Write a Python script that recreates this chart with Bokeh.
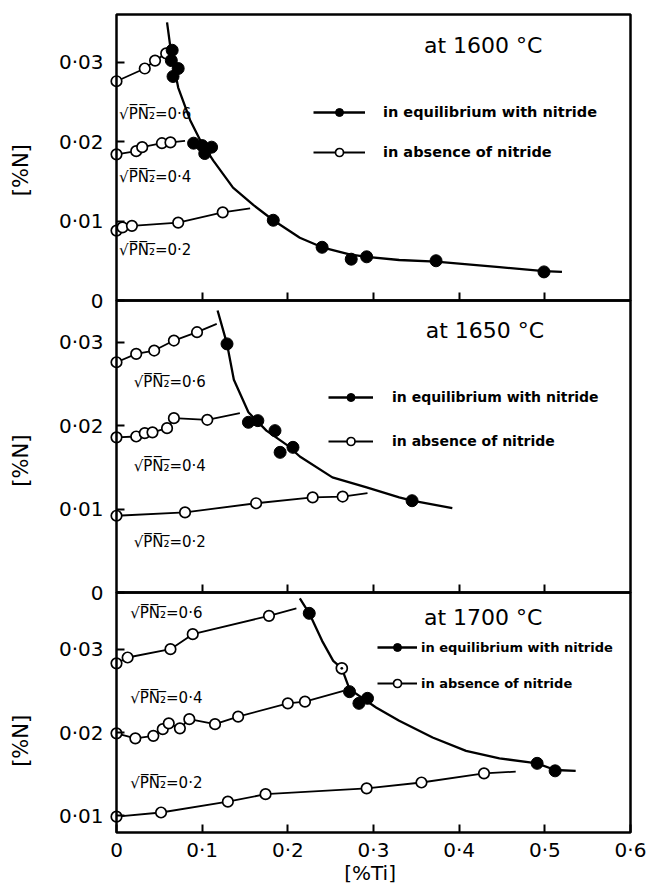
import math
from bokeh.plotting import figure
from bokeh.models import (Range1d, LinearAxis, FixedTicker, BoxAnnotation, Label,
                          Legend, LegendItem)
from bokeh.embed import file_html
from bokeh.resources import INLINE

# ---------------- data ----------------
x_ticks = [0, 0.1, 0.2, 0.3, 0.4, 0.5, 0.6]
x_tick_labels = ["0", "0·1", "0·2", "0·3", "0·4", "0·5", "0·6"]

# 1600 C
p1_open06_x = [0, 0.033, 0.045, 0.058]
p1_open06_y = [0.0276, 0.0292, 0.0302, 0.0311]
p1_open04_x = [0, 0.023, 0.030, 0.053, 0.063]
p1_open04_y = [0.0184, 0.0188, 0.0193, 0.0198, 0.0199]
p1_open04_end = (0.080, 0.0201)
p1_open02_x = [0, 0.007, 0.018, 0.072, 0.124]
p1_open02_y = [0.0088, 0.0092, 0.0094, 0.0098, 0.0111]
p1_open02_end = (0.156, 0.0116)
p1_fill_x = [0.065, 0.064, 0.072, 0.066, 0.090, 0.100, 0.111, 0.103,
             0.183, 0.240, 0.274, 0.292, 0.373, 0.499]
p1_fill_y = [0.0315, 0.0302, 0.0292, 0.0282, 0.0198, 0.0195, 0.0193, 0.0185,
             0.0101, 0.0067, 0.0052, 0.0055, 0.0050, 0.0036]
p1_curve_x = [0.059, 0.063, 0.068, 0.072, 0.086, 0.098, 0.113, 0.136, 0.160,
              0.183, 0.214, 0.240, 0.272, 0.292, 0.330, 0.373, 0.447, 0.499, 0.520]
p1_curve_y = [0.0350, 0.0318, 0.0290, 0.0268, 0.0227, 0.0201, 0.0176, 0.0142, 0.0120,
              0.0101, 0.0079, 0.0067, 0.0058, 0.0055, 0.0051, 0.0049, 0.0042, 0.0037, 0.0036]

# 1650 C
p2_open06_x = [0, 0.023, 0.044, 0.067, 0.094]
p2_open06_y = [0.0276, 0.0286, 0.0290, 0.0302, 0.0312]
p2_open06_end = (0.117, 0.0322)
p2_open04_x = [0, 0.023, 0.033, 0.042, 0.059, 0.067, 0.106]
p2_open04_y = [0.0186, 0.0187, 0.0191, 0.0192, 0.0197, 0.0209, 0.0207]
p2_open04_end = (0.144, 0.0215)
p2_open02_x = [0, 0.080, 0.163, 0.229, 0.264]
p2_open02_y = [0.0092, 0.0096, 0.0107, 0.0114, 0.0115]
p2_open02_end = (0.293, 0.0119)
p2_fill_x = [0.129, 0.154, 0.165, 0.185, 0.191, 0.206, 0.345]
p2_fill_y = [0.0298, 0.0204, 0.0206, 0.0194, 0.0168, 0.0174, 0.0110]
p2_curve_x = [0.118, 0.129, 0.137, 0.154, 0.175, 0.200, 0.214, 0.252, 0.292, 0.330, 0.345, 0.392]
p2_curve_y = [0.0338, 0.0298, 0.0255, 0.0216, 0.0194, 0.0176, 0.0163, 0.0138, 0.0126, 0.0114, 0.0110, 0.0101]

# 1700 C
p3_open06_x = [0, 0.013, 0.063, 0.089, 0.178]
p3_open06_y = [0.0283, 0.0290, 0.0300, 0.0318, 0.0340]
p3_open06_end = (0.210, 0.0349)
p3_open04_x = [0, 0.022, 0.043, 0.054, 0.061, 0.074, 0.085, 0.115, 0.142, 0.200, 0.220]
p3_open04_y = [0.0199, 0.0193, 0.0196, 0.0204, 0.0211, 0.0205, 0.0216, 0.0210, 0.0219, 0.0235, 0.0237]
p3_open04_end = (0.265, 0.0250)
p3_open02_x = [0, 0.052, 0.130, 0.174, 0.292, 0.356, 0.429]
p3_open02_y = [0.0099, 0.0104, 0.0117, 0.0126, 0.0133, 0.0140, 0.0151]
p3_open02_end = (0.466, 0.0153)
p3_fill_x = [0.225, 0.272, 0.283, 0.293, 0.491, 0.512]
p3_fill_y = [0.0343, 0.0249, 0.0235, 0.0241, 0.0163, 0.0154]
p3_dot_x = [0.263]
p3_dot_y = [0.0277]
p3_curve_x = [0.214, 0.225, 0.240, 0.253, 0.263, 0.272, 0.303, 0.330, 0.369, 0.408, 0.447, 0.491, 0.512, 0.536]
p3_curve_y = [0.0361, 0.0343, 0.0310, 0.0286, 0.0277, 0.0252, 0.0230, 0.0214, 0.0194, 0.0178, 0.0169, 0.0163, 0.0155, 0.0154]

# ---------------- layout ----------------
FONT = "DejaVu Sans"
INK = "black"
W, H = 650, 884                 # whole canvas is the plotting frame
X_LEFT_PX, X_RIGHT_PX = 116, 630   # where x = 0 and x = 0.6 fall
X_LO, X_HI = 0.0, 0.6
# panel geometry: (name, lo, hi, top px, bottom px, ticks)
panels = [
    ("p1", 0.0, 0.036, 14, 300, [0, 0.01, 0.02, 0.03]),
    ("p2", 0.0, 0.035, 300, 592, [0, 0.01, 0.02, 0.03]),
    ("p3", 0.008, 0.0368, 592, 832, [0.01, 0.02, 0.03]),
]

xper = (X_HI - X_LO) / (X_RIGHT_PX - X_LEFT_PX)
p = figure(width=W, height=H, output_backend="svg", toolbar_location=None,
           x_range=Range1d(X_LO - X_LEFT_PX * xper, X_HI + (W - X_RIGHT_PX) * xper),
           y_range=Range1d(0, 1), x_axis_location=None, y_axis_location=None,
           min_border=0, min_border_left=0, min_border_right=0,
           min_border_top=0, min_border_bottom=0)
p.grid.visible = False
p.outline_line_color = None
p.background_fill_color = "white"
p.border_fill_color = "white"

ranges, yper = {}, {}
for name, lo, hi, top, bot, ticks in panels:
    per = (hi - lo) / (bot - top)
    yper[name] = per
    ranges[name] = Range1d(lo - (H - bot) * per, hi + top * per)
p.extra_y_ranges = ranges

def fmt(t):
    return "0" if t == 0 else ("%.2f" % t).replace(".", "·")

for name, lo, hi, top, bot, ticks in panels:
    p.add_layout(BoxAnnotation(left=X_LO, right=X_HI, bottom=lo, top=hi, y_range_name=name,
                               fill_color=None, fill_alpha=0, line_color=INK, line_alpha=1,
                               line_width=2.5))
    ax = LinearAxis(y_range_name=name, fixed_location=X_LO,
                    ticker=FixedTicker(ticks=ticks),
                    major_label_overrides={t: fmt(t) for t in ticks},
                    major_tick_in=8, major_tick_out=0, major_tick_line_width=2,
                    major_tick_line_color=INK,
                    minor_tick_line_color=None, axis_line_color=None,
                    major_label_standoff=13, major_label_text_color=INK,
                    major_label_text_font=FONT, major_label_text_font_size="20px")
    p.add_layout(ax, "left")
    if name != "p3":
        xin = LinearAxis(y_range_name=name, fixed_location=lo,
                         ticker=FixedTicker(ticks=x_ticks[1:-1]),
                         major_tick_in=8, major_tick_out=0, major_tick_line_width=2,
                         major_tick_line_color=INK,
                         minor_tick_line_color=None, axis_line_color=None,
                         major_label_text_color=None)
        p.add_layout(xin, "below")

bx = LinearAxis(y_range_name="p3", fixed_location=panels[2][1],
                ticker=FixedTicker(ticks=x_ticks),
                major_label_overrides={t: l for t, l in zip(x_ticks, x_tick_labels)},
                major_tick_in=8, major_tick_out=0, major_tick_line_width=2,
                major_tick_line_color=INK,
                minor_tick_line_color=None, axis_line_color=None,
                major_label_standoff=5, major_label_text_color=INK,
                major_label_text_font=FONT, major_label_text_font_size="20px")
p.add_layout(bx, "below")

OPEN = dict(marker="circle", size=10.5, fill_color="white", line_color=INK, line_width=1.7)
FILL = dict(marker="circle", size=12, fill_color=INK, line_color=INK)

def panel(name, open_sets, fx, fy, cx, cy):
    rs = {}
    for ox, oy, end in open_sets:
        lx = list(ox) + ([end[0]] if end else [])
        ly = list(oy) + ([end[1]] if end else [])
        lr = p.line(lx, ly, y_range_name=name, line_color=INK, line_width=1.8)
        rs.setdefault("line", lr)
    cr = p.line(cx, cy, y_range_name=name, line_color=INK, line_width=2.3)
    for ox, oy, end in open_sets:
        orr = p.scatter(ox, oy, y_range_name=name, **OPEN)
        rs.setdefault("open", orr)
    fr = p.scatter(fx, fy, y_range_name=name, **FILL)
    rs["curve"] = cr
    rs["fill"] = fr
    return rs

r1 = panel("p1", [(p1_open06_x, p1_open06_y, None), (p1_open04_x, p1_open04_y, p1_open04_end),
                  (p1_open02_x, p1_open02_y, p1_open02_end)], p1_fill_x, p1_fill_y, p1_curve_x, p1_curve_y)
r2 = panel("p2", [(p2_open06_x, p2_open06_y, p2_open06_end), (p2_open04_x, p2_open04_y, p2_open04_end),
                  (p2_open02_x, p2_open02_y, p2_open02_end)], p2_fill_x, p2_fill_y, p2_curve_x, p2_curve_y)
r3 = panel("p3", [(p3_open06_x, p3_open06_y, p3_open06_end), (p3_open04_x, p3_open04_y, p3_open04_end),
                  (p3_open02_x, p3_open02_y, p3_open02_end)], p3_fill_x, p3_fill_y, p3_curve_x, p3_curve_y)
p.scatter(p3_dot_x, p3_dot_y, y_range_name="p3", marker="circle_dot", size=11,
          fill_color="white", line_color=INK, line_width=1.7)

# legends: (renderers, x, y from canvas bottom-left, glyph width, standoff, spacing, font size)
for rs, lx, ly, gw, so, sp, fs in [(r1, 313, 722, 52, 18, 20, "14.5px"),
                                    (r2, 328, 433, 45, 19, 24, "14px"),
                                    (r3, 377, 191, 40, 4, 16, "13px")]:
    leg = Legend(items=[LegendItem(label="in equilibrium with nitride", renderers=[rs["curve"], rs["fill"]]),
                        LegendItem(label="in absence of nitride", renderers=[rs["line"], rs["open"]])],
                 location=(lx, ly), padding=0, margin=0, spacing=sp,
                 glyph_width=gw, glyph_height=20, label_height=20, label_standoff=so,
                 border_line_color=None, background_fill_alpha=0,
                 label_text_font=FONT, label_text_font_size=fs, label_text_font_style="bold",
                 label_text_color=INK)
    p.add_layout(leg)

# texts
SQ = "√P\u0305N\u0305\u2082\u0305"
texts = [("p1", 0.428, 0.0321, "at 1600 °C", "22px", "center"),
         ("p2", 0.430, 0.0314, "at 1650 °C", "22px", "center"),
         ("p3", 0.428, 0.0338, "at 1700 °C", "22px", "center"),
         ("p1", 0.003, 0.0235, SQ + "=0·6", "15px", "left"),
         ("p1", 0.003, 0.0155, SQ + "=0·4", "15px", "left"),
         ("p1", 0.003, 0.0063, SQ + "=0·2", "15px", "left"),
         ("p2", 0.020, 0.0252, SQ + "=0·6", "15px", "left"),
         ("p2", 0.020, 0.0152, SQ + "=0·4", "15px", "left"),
         ("p2", 0.020, 0.0060, SQ + "=0·2", "15px", "left"),
         ("p3", 0.016, 0.0343, SQ + "=0·6", "15px", "left"),
         ("p3", 0.016, 0.0241, SQ + "=0·4", "15px", "left"),
         ("p3", 0.016, 0.0139, SQ + "=0·2", "15px", "left")]
for name, x, y, t, fs, al in texts:
    p.add_layout(Label(x=x, y=y, y_range_name=name, text=t, text_font=FONT, text_color=INK,
                       text_font_size=fs, text_align=al, text_baseline="middle"))

YLAB_X = X_LO - (X_LEFT_PX - 20) * xper
for name, y in [("p1", 0.0164), ("p2", 0.0158), ("p3", 0.019)]:
    p.add_layout(Label(x=YLAB_X, y=y, y_range_name=name, text="[%N]", angle=math.pi / 2,
                       text_font=FONT, text_font_size="21px", text_color=INK,
                       text_align="center", text_baseline="middle"))

# x-axis title below the lowest panel
p.add_layout(Label(x=(X_LO + X_HI) / 2 - 0.004, y=panels[2][1] - 40 * yper["p3"], y_range_name="p3",
                   text="[%Ti]", text_font=FONT, text_font_size="20px", text_color=INK,
                   text_align="center", text_baseline="middle"))

open("out.html", "w").write(file_html(p, INLINE))
